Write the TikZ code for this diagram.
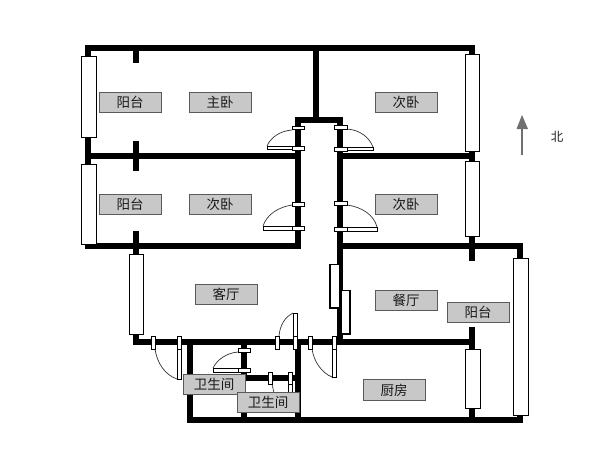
\documentclass[tikz,border=0pt]{standalone}
\usepackage{fontspec}
\newfontfamily\cjk{Noto Sans CJK SC}
\definecolor{labelgray}{HTML}{C8C8C8}
\definecolor{labeledge}{HTML}{5A5A5A}
\definecolor{arrowgray}{HTML}{707070}
\tikzset{
  wall/.style={line width=6pt,black,line cap=butt},
  glass/.style={draw=black,line width=0.8pt,fill=white},
  slider/.style={draw=black,line width=1.6pt,fill=white},
  swing/.style={draw=black!80,line width=0.7pt},
  roomtag/.style={draw=labeledge,line width=0.7pt,fill=labelgray,minimum width=62pt,minimum height=20.5pt,inner sep=0pt,font=\cjk\fontsize{13.5pt}{13.5pt}\selectfont,text=black!90}
}
\newcommand{\pane}[4]{\draw[glass] (#1,#2) rectangle (#3,#4);}
\begin{document}
\begin{tikzpicture}[x=1pt,y=-1pt]
\useasboundingbox (0,0) rectangle (600,450);
\fill[white] (0,0) rectangle (600,450);
% walls
\draw[wall] (85,48) -- (475,48);
\draw[wall] (88,45) -- (88,249);
\draw[wall] (85,156) -- (301,156);
\draw[wall] (85,246) -- (301,246);
\draw[wall] (136,48) -- (136,63);
\draw[wall] (136,141) -- (136,171);
\draw[wall] (136,231) -- (136,342);
\draw[wall] (316,48) -- (316,120);
\draw[wall] (295,120) -- (343,120);
\draw[wall] (298,117) -- (298,249);
\draw[wall] (340,117) -- (340,345);
\draw[wall] (337,156) -- (475,156);
\draw[wall] (472,45) -- (472,261);
\draw[wall] (337,246) -- (523,246);
\draw[wall] (520,243) -- (520,423);
\draw[wall] (472,327) -- (472,423);
\draw[wall] (133,342) -- (475,342);
\draw[wall] (187,420) -- (523,420);
\draw[wall] (190,342) -- (190,423);
\draw[wall] (244,342) -- (244,378);
\draw[wall] (244,405) -- (244,420);
\draw[wall] (298,342) -- (298,423);
\draw[wall] (244,378) -- (298,378);
% windows
\pane{81.5}{56}{96}{137}
\pane{81.5}{164}{96}{244}
\pane{465.5}{54}{479}{151}
\pane{465.5}{161}{479}{236}
\pane{513.5}{258}{528}{415}
\pane{465.5}{349}{480}{408}
\pane{129.5}{254}{143}{334}
\draw[slider] (330,264.5) rectangle (340,308);
\draw[slider] (341,290.5) rectangle (350,334);
% doors: upper left
\draw[swing] (292,130) .. controls (280,131) and (271,137) .. (267,146);
\pane{292}{126}{304}{129.5}
\pane{292}{146}{304}{150}
\pane{267}{146}{292}{149.5}
\draw[swing] (292,205) .. controls (279,207) and (267,214) .. (263,226);
\pane{292}{202}{304}{206}
\pane{292}{226}{304}{230}
\pane{263}{226}{292}{230}
% doors: upper right
\draw[swing] (347,129) .. controls (360,130) and (369,137) .. (373,147);
\pane{334}{125}{347}{129}
\pane{334}{147}{347}{151}
\pane{347}{147}{373}{150.5}
\draw[swing] (347,205) .. controls (362,207) and (374,215) .. (377,227);
\pane{334}{201}{347}{205}
\pane{334}{227}{347}{231}
\pane{347}{227}{377}{231}
% doors: lower
\draw[swing] (155,349) .. controls (157,363) and (165,375) .. (177,379);
\pane{151.5}{336}{155}{349}
\pane{177.5}{336}{181}{349}
\pane{177.5}{349}{181}{379}
\draw[swing] (279,336) .. controls (280,325) and (285,317) .. (293,313);
\pane{275.5}{336}{279}{349}
\pane{293.5}{313}{297}{336}
\pane{293.5}{336}{297}{349}
\draw[swing] (312,349) .. controls (314,362) and (322,373) .. (332,377);
\pane{308.5}{336}{312}{349}
\pane{332.5}{336}{336}{349}
\pane{332.5}{349}{336}{377}
\draw[swing] (238,352) .. controls (226,353) and (217,360) .. (213,368);
\pane{238}{348}{250}{352}
\pane{238}{368}{250}{372}
\pane{213}{368}{238}{372}
\draw[swing] (272,384) -- (274,393);
\pane{268.5}{372}{272}{384}
\pane{288.5}{372}{292}{384}
\pane{288.5}{384}{292}{393}
% labels
\node[roomtag] (balconyA) at (130,102.5) {阳台};
\node[roomtag] (masterbed) at (220,102.5) {主卧};
\node[roomtag] (bedNE) at (406,102.5) {次卧};
\node[roomtag] (balconyB) at (130,204.5) {阳台};
\node[roomtag] (bedW) at (220,204.5) {次卧};
\node[roomtag] (bedE) at (406,204.5) {次卧};
\node[roomtag] (living) at (226,294.5) {客厅};
\node[roomtag] (dining) at (406,300.5) {餐厅};
\node[roomtag] (balconyC) at (478,312.5) {阳台};
\node[roomtag] (kitchen) at (394,390) {厨房};
\node[roomtag] (bathA) at (214,384.5) {卫生间};
\node[roomtag] (bathB) at (268,402.5) {卫生间};
% north arrow
\coordinate (arrowtail) at (522,155);
\coordinate (arrowtip) at (522,115);
\draw[arrowgray,line width=2pt] (arrowtail) -- (522,128);
\fill[arrowgray] (arrowtip) -- (528,129) -- (516.5,129) -- cycle;
\node[font=\cjk\fontsize{12.5pt}{12.5pt}\selectfont,text=black!85,inner sep=0pt] (north) at (557,137) {北};
\end{tikzpicture}
\end{document}
